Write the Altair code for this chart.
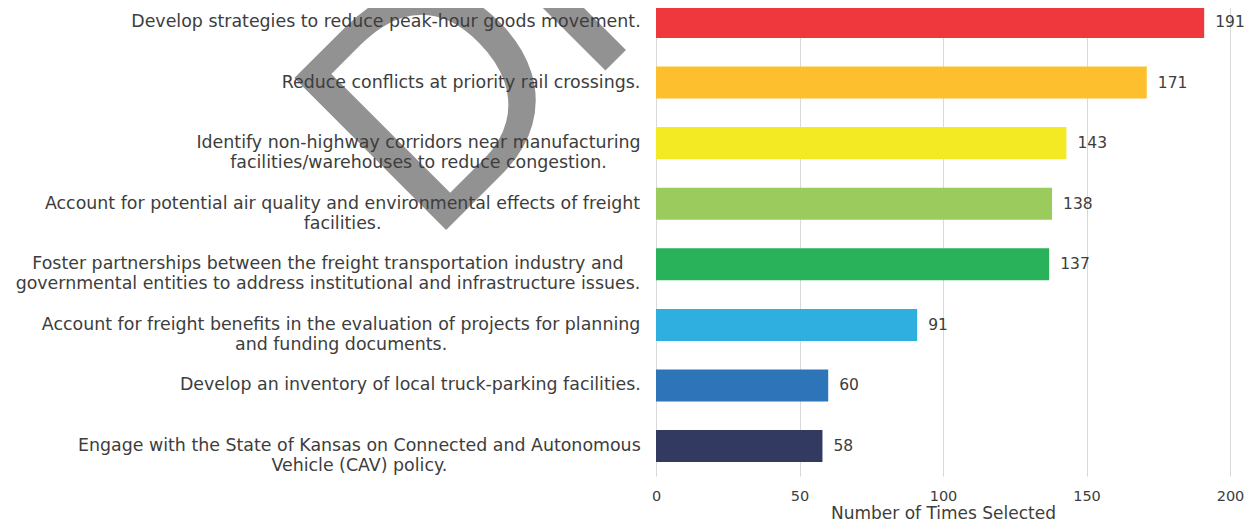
import glob
import os
import struct

import altair as alt
import pandas as pd

# ---------------- data ----------------
labels = [
    "Develop strategies to reduce peak-hour goods movement.",
    "Reduce conflicts at priority rail crossings.",
    "Identify non-highway corridors near manufacturing\nfacilities/warehouses to reduce congestion.",
    "Account for potential air quality and environmental effects of freight\nfacilities.",
    "Foster partnerships between the freight transportation industry and\ngovernmental entities to address institutional and infrastructure issues.",
    "Account for freight benefits in the evaluation of projects for planning\nand funding documents.",
    "Develop an inventory of local truck-parking facilities.",
    "Engage with the State of Kansas on Connected and Autonomous\nVehicle (CAV) policy.",
]
values = [191, 171, 143, 138, 137, 91, 60, 58]
colors = ["#EE383D", "#FDBF2D", "#F3EA23", "#9BCB5C", "#2AB25A", "#2FAEE0", "#2E74B8", "#333A62"]
x_ticks = [0, 50, 100, 150, 200]
x_title = "Number of Times Selected"
watermark = ["DRAFT"]

# ---------------- style ----------------
FONT = "DejaVu Sans"
FONT_FILES = ["DejaVuSans.ttf"]
LABEL_SIZE = 17.4
TEXT_COLOR = "#3d3d3d"
W, H = 574, 484
X_MAX = 200
LABEL_GAP = 15  # px between label block right edge and plot left


def find_font(names):
    roots = ["/usr/share/fonts", "/usr/local/share/fonts",
             os.path.expanduser("~/.fonts"), os.path.expanduser("~/.local/share/fonts")]
    for n in names:
        for root in roots:
            hits = sorted(glob.glob(os.path.join(root, "**", n), recursive=True))
            if hits:
                return hits[0]
    return None


def load_metrics(path):
    data = open(path, "rb").read()
    num_tables = struct.unpack(">H", data[4:6])[0]
    tables = {}
    for i in range(num_tables):
        off = 12 + 16 * i
        tag = data[off:off + 4].decode("latin1")
        _, toff, tlen = struct.unpack(">III", data[off + 4:off + 16])
        tables[tag] = toff
    head = tables["head"]
    upem = struct.unpack(">H", data[head + 18:head + 20])[0]
    hhea = tables["hhea"]
    n_hm = struct.unpack(">H", data[hhea + 34:hhea + 36])[0]
    hmtx = tables["hmtx"]
    adv = [struct.unpack(">H", data[hmtx + 4 * i:hmtx + 4 * i + 2])[0] for i in range(n_hm)]
    cmap = tables["cmap"]
    nsub = struct.unpack(">H", data[cmap + 2:cmap + 4])[0]
    mapping = {}
    for i in range(nsub):
        pid, eid, soff = struct.unpack(">HHI", data[cmap + 4 + 8 * i:cmap + 12 + 8 * i])
        sub = cmap + soff
        fmt = struct.unpack(">H", data[sub:sub + 2])[0]
        if fmt != 4 or pid not in (0, 3):
            continue
        segx2 = struct.unpack(">H", data[sub + 6:sub + 8])[0]
        segs = segx2 // 2
        ends = struct.unpack(">%dH" % segs, data[sub + 14:sub + 14 + segx2])
        so = sub + 16 + segx2
        starts = struct.unpack(">%dH" % segs, data[so:so + segx2])
        do = so + segx2
        deltas = struct.unpack(">%dh" % segs, data[do:do + segx2])
        ro = do + segx2
        ros = struct.unpack(">%dH" % segs, data[ro:ro + segx2])
        for s in range(segs):
            for c in range(starts[s], min(ends[s], 0x2FF) + 1):
                if ros[s] == 0:
                    g = (c + deltas[s]) & 0xFFFF
                else:
                    addr = ro + 2 * s + ros[s] + 2 * (c - starts[s])
                    g = struct.unpack(">H", data[addr:addr + 2])[0]
                    if g:
                        g = (g + deltas[s]) & 0xFFFF
                mapping[c] = g
        break
    if not mapping:
        raise ValueError("no cmap")

    def width(s, size):
        tot = 0
        for ch in s:
            g = mapping.get(ord(ch), 0)
            tot += adv[min(g, len(adv) - 1)]
        return tot / upem * size
    return width


try:
    text_width = load_metrics(find_font(FONT_FILES))
except Exception:
    def text_width(s, size):
        return len(s) * 0.55 * size

px_per_unit = W / X_MAX
label_x = []
for lab in labels:
    maxw = max(text_width(line, LABEL_SIZE) for line in lab.split("\n"))
    label_x.append((-LABEL_GAP - maxw / 2) / px_per_unit)

df = pd.DataFrame({"label": labels, "value": values, "lx": label_x})

y_enc = alt.Y("label:N", sort=labels, axis=None,
              scale=alt.Scale(paddingInner=0.472, paddingOuter=0.23))
x_scale = alt.Scale(domain=[0, X_MAX], nice=False, zero=True)

base = alt.Chart(df)

bars = base.mark_bar().encode(
    x=alt.X("value:Q", scale=x_scale,
            axis=alt.Axis(values=x_ticks, title=x_title, grid=True, gridColor="#d9d9d9",
                          domain=False, ticks=False, labelFlush=False, labelPadding=13,
                          titlePadding=3, labelFontSize=14.5, titleFontSize=17,
                          labelColor=TEXT_COLOR, titleColor=TEXT_COLOR, labelFont=FONT,
                          titleFont=FONT, titleFontWeight="normal")),
    y=y_enc,
    color=alt.Color("label:N", scale=alt.Scale(domain=labels, range=colors), legend=None),
)

value_text = base.mark_text(align="left", baseline="middle", dx=11, font=FONT,
                            fontSize=15.5, color=TEXT_COLOR).encode(
    x=alt.X("value:Q", scale=x_scale),
    y=y_enc,
    text=alt.Text("value:Q"),
)

mark_wm = alt.Chart(pd.DataFrame({"w": watermark})).mark_text(
    align="left", baseline="alphabetic", angle=315, font="Liberation Sans",
    fontSize=312, color="#929292",
).encode(x=alt.value(-228), y=alt.value(256), text="w:N")

cat_text = base.mark_text(align="center", baseline="middle", lineBreak="\n", lineHeight=20,
                          font=FONT, fontSize=LABEL_SIZE, color=TEXT_COLOR).encode(
    x=alt.X("lx:Q", scale=x_scale),
    y=y_enc,
    text="label:N",
)

chart = alt.layer(bars, value_text, mark_wm, cat_text).properties(
    width=W, height=H,
    autosize=alt.AutoSizeParams(type="none"),
    padding={"left": 648, "top": -16, "right": 15, "bottom": 46},
).configure_view(stroke=None)

chart.save("out.html", embed_options={"renderer": "svg", "actions": False})
